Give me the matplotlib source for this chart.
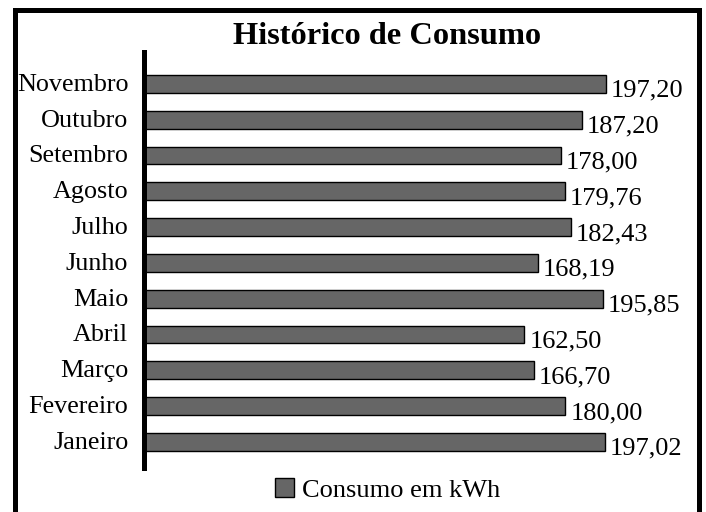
import matplotlib
matplotlib.use("Agg")
import matplotlib.pyplot as plt
from matplotlib.patches import Rectangle
import matplotlib.transforms as mtransforms

months = ["Janeiro", "Fevereiro", "Março", "Abril", "Maio", "Junho",
          "Julho", "Agosto", "Setembro", "Outubro", "Novembro"]
values = [197.02, 180.00, 166.70, 162.50, 195.85, 168.19,
          182.43, 179.76, 178.00, 187.20, 197.20]
labels = ["197,02", "180,00", "166,70", "162,50", "195,85", "168,19",
          "182,43", "179,76", "178,00", "187,20", "197,20"]
title = "Histórico de Consumo"
series_name = "Consumo em kWh"

plt.rcParams['font.family'] = ['Liberation Serif', 'DejaVu Serif']

W, H = 706, 512
fig = plt.figure(figsize=(W / 100, H / 100), dpi=100)
fig.patch.set_facecolor("white")

ax = fig.add_axes([143.5 / W, 1 - 468 / H, (631 - 143.5) / W, (468 - 52) / H])
pos = list(range(len(months)))
bars = ax.barh(pos, values, height=0.5, color="#666666", edgecolor="black",
               linewidth=1.0, label=series_name)
ax.set_xlim(0, 208)
ax.set_ylim(-0.73, 10.89)

for s in ["top", "right", "bottom"]:
    ax.spines[s].set_visible(False)
ax.spines["left"].set_linewidth(3.6)
ax.spines["left"].set_color("black")
ax.set_xticks([])
ax.set_yticks(pos)
ax.set_yticklabels(months, fontsize=18.8)
ax.tick_params(axis="y", length=0, pad=11)
offset = mtransforms.ScaledTranslation(0, -7 / 100, fig.dpi_scale_trans)
for t in ax.get_yticklabels():
    t.set_va("baseline")
    t.set_transform(t.get_transform() + offset)

for p, v, lab in zip(pos, values, labels):
    ax.annotate(lab, xy=(v, p), xytext=(3.5, -9.4), textcoords="offset points",
                ha="left", va="baseline", fontsize=19, annotation_clip=False)

fig.text(387 / W, 1 - 44 / H, title, ha="center", va="baseline",
         fontsize=23.3, fontweight="bold")

leg = fig.legend(handles=[bars], labels=[series_name], loc="center",
                 bbox_to_anchor=(388 / W, 1 - 490 / H), frameon=False,
                 fontsize=19, handlelength=0.72, handleheight=0.72,
                 handletextpad=0.3, borderpad=0)

fig.patches.append(Rectangle((14.5 / W, -0.05), (699.5 - 14.5) / W, 1.05 - 9.5 / H,
                             transform=fig.transFigure, fill=False,
                             edgecolor="black", linewidth=3.6))

fig.savefig("out.png", dpi=100)
